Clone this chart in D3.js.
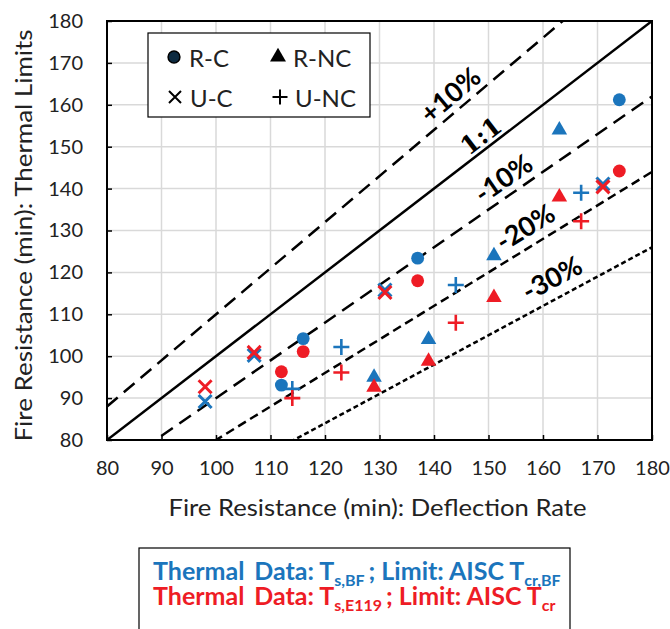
<!DOCTYPE html>
<html>
<head>
<meta charset="utf-8">
<script src="https://cdn.jsdelivr.net/npm/d3@7"></script>
<style>
  body { margin: 0; background: #fff; }
  text { font-family: Lato, "Open Sans", sans-serif; }
</style>
</head>
<body>
<svg width="670" height="629"></svg>
<script>
const svg = d3.select('svg');

// x = fire resistance from deflection rate, y = fire resistance from thermal limits
const rcX = [112, 116, 137, 174];
const rcBlueY = [93.1, 104.2, 123.4, 161.2];
const rcRedY = [96.3, 101.1, 118, 144.2];

const rncX = [129, 139, 151, 163];
const rncBlueY = [95, 104, 124, 154];
const rncRedY = [92.6, 98.8, 114, 138];

const ucX = [98, 107, 131, 171];
const ucBlueY = [89.2, 100.2, 115.8, 141.1];
const ucRedY = [92.7, 100.9, 115.2, 140.4];

const uncX = [114, 123, 144, 167];
const uncBlueY = [92.2, 102.2, 117, 139];
const uncRedY = [90, 96.1, 108, 132.2];

const ticks = [80, 90, 100, 110, 120, 130, 140, 150, 160, 170, 180];

const refFactors = [1.1, 1.0, 0.9, 0.8, 0.7];
const refLabels = ['+10%', '1:1', '-10%', '-20%', '-30%'];

const blue = '#1b75bc';
const red = '#ee1c25';

const margin = { top: 21, left: 107 };
const innerWidth = 545;
const innerHeight = 419;

const xScale = d3.scaleLinear().domain([80, 180]).range([0, innerWidth]);
const yScale = d3.scaleLinear().domain([80, 180]).range([innerHeight, 0]);

const g = svg.append('g')
    .attr('transform', `translate(${margin.left}, ${margin.top})`);

svg.append('defs').append('clipPath').attr('id', 'plot-clip')
  .append('rect').attr('width', innerWidth).attr('height', innerHeight);

// grid
g.append('g').selectAll('line').data(ticks.slice(1, -1)).enter().append('line')
    .attr('x1', d => xScale(d)).attr('x2', d => xScale(d))
    .attr('y1', 0).attr('y2', innerHeight)
    .attr('stroke', '#d9d9d9').attr('stroke-width', 1.5);
g.append('g').selectAll('line').data(ticks.slice(1, -1)).enter().append('line')
    .attr('y1', d => yScale(d)).attr('y2', d => yScale(d))
    .attr('x1', 0).attr('x2', innerWidth)
    .attr('stroke', '#d9d9d9').attr('stroke-width', 1.5);

// axes, ticks pointing inward
const yAxisG = g.append('g')
    .call(d3.axisLeft(yScale).tickValues(ticks).tickSize(-5).tickPadding(24));
const xAxisG = g.append('g')
    .attr('transform', `translate(0, ${innerHeight})`)
    .call(d3.axisBottom(xScale).tickValues(ticks).tickSize(-5).tickPadding(21));
[yAxisG, xAxisG].forEach(a => {
  a.select('.domain').remove();
  a.selectAll('.tick line').attr('stroke', '#000').attr('stroke-width', 1.5);
  a.selectAll('.tick text').attr('font-size', 20).attr('fill', '#222')
    .style('font-family', 'Lato, sans-serif');
});

// reference lines
const dashes = ['14,8', null, '14,8', '9,5', '5,3'];
const clipG = g.append('g').attr('clip-path', 'url(#plot-clip)');
clipG.selectAll('line.ref').data(refFactors).enter().append('line')
    .attr('class', 'ref')
    .attr('x1', xScale(80)).attr('y1', f => yScale(80 * f))
    .attr('x2', xScale(180)).attr('y2', f => yScale(180 * f))
    .attr('stroke', '#000').attr('stroke-width', 2.5)
    .attr('stroke-dasharray', (f, i) => dashes[i]);

// labels on the reference lines
const labelAt = [144.9, 150.1, 154.5, 158.6, 163.4];
const labelOff = [17, 13, 18, 20, 21];
refFactors.forEach((f, i) => {
  const angle = Math.atan2(yScale(80) - yScale(80 + 10 * f), xScale(90) - xScale(80)) * 180 / Math.PI;
  g.append('text')
    .attr('transform', `translate(${xScale(labelAt[i])}, ${yScale(labelAt[i] * f)}) rotate(${-angle})`)
    .attr('y', -labelOff[i])
    .attr('dominant-baseline', 'central')
    .attr('text-anchor', 'middle')
    .attr('font-size', i === 1 ? 25 : 27)
    .attr('font-weight', 'bold')
    .style('font-family', i === 1 ? '"DejaVu Serif", serif' : 'Lato, sans-serif')
    .text(refLabels[i]);
});

// frame
g.append('rect').attr('width', innerWidth).attr('height', innerHeight)
    .attr('fill', 'none').attr('stroke', '#000').attr('stroke-width', 2);

// markers
const xPath = s => `M${-s},${-s}L${s},${s}M${-s},${s}L${s},${-s}`;
const plusPath = s => `M${-s},0L${s},0M0,${-s}L0,${s}`;

const drawSeries = (xs, ys, kind, color) => {
  const pts = xs.map((x, i) => ({ x, y: ys[i] }));
  const sel = g.append('g').selectAll('path').data(pts).enter().append('path')
      .attr('transform', d => `translate(${xScale(d.x)}, ${yScale(d.y)})`);
  if (kind === 'circle') {
    sel.attr('d', d3.symbol(d3.symbolCircle, 130)()).attr('fill', color);
  } else if (kind === 'triangle') {
    sel.attr('d', d3.symbol(d3.symbolTriangle, 105)()).attr('fill', color);
  } else if (kind === 'x') {
    sel.attr('d', xPath(6.5)).attr('stroke', color).attr('stroke-width', 3).attr('fill', 'none');
  } else {
    sel.attr('d', plusPath(8)).attr('stroke', color).attr('stroke-width', 2.6).attr('fill', 'none');
  }
};

drawSeries(rcX, rcBlueY, 'circle', blue);
drawSeries(rcX, rcRedY, 'circle', red);
drawSeries(rncX, rncBlueY, 'triangle', blue);
drawSeries(rncX, rncRedY, 'triangle', red);
drawSeries(ucX, ucBlueY, 'x', blue);
drawSeries(ucX, ucRedY, 'x', red);
drawSeries(uncX, uncBlueY, 'plus', blue);
drawSeries(uncX, uncRedY, 'plus', red);

// legend
const lg = svg.append('g');
lg.append('rect').attr('x', 148).attr('y', 33).attr('width', 222).attr('height', 84)
    .attr('fill', '#fff').attr('stroke', '#000').attr('stroke-width', 1.2);
const legendItems = [
  { label: 'R-C', kind: 'circle', x: 174, y: 57 },
  { label: 'R-NC', kind: 'triangle', x: 278, y: 57 },
  { label: 'U-C', kind: 'x', x: 175, y: 97 },
  { label: 'U-NC', kind: 'plus', x: 280, y: 97 }
];
legendItems.forEach(d => {
  const m = lg.append('path').attr('transform', `translate(${d.x}, ${d.y})`);
  if (d.kind === 'circle') {
    m.attr('d', d3.symbol(d3.symbolCircle, 110)()).attr('fill', '#0d2a40')
      .attr('stroke', '#000').attr('stroke-width', 1.5);
  } else if (d.kind === 'triangle') {
    m.attr('d', d3.symbol(d3.symbolTriangle, 110)()).attr('fill', '#000');
  } else if (d.kind === 'x') {
    m.attr('d', xPath(6)).attr('stroke', '#000').attr('stroke-width', 2);
  } else {
    m.attr('d', plusPath(7.5)).attr('stroke', '#000').attr('stroke-width', 2);
  }
  lg.append('text').attr('x', d.x + 15).attr('y', d.y)
    .attr('dominant-baseline', 'central')
    .attr('font-size', 24).attr('fill', '#222').text(d.label);
});

// axis titles
svg.append('text')
    .attr('x', margin.left + innerWidth / 2 - 2).attr('y', 516)
    .attr('text-anchor', 'middle').attr('font-size', 24).attr('fill', '#222')
    .attr('textLength', 418).attr('lengthAdjust', 'spacingAndGlyphs')
    .text('Fire Resistance (min): Deflection Rate');
svg.append('text')
    .attr('transform', `translate(32, ${margin.top + innerHeight / 2 + 5}) rotate(-90)`)
    .attr('text-anchor', 'middle').attr('font-size', 24).attr('fill', '#222')
    .attr('textLength', 412).attr('lengthAdjust', 'spacingAndGlyphs')
    .text('Fire Resistance (min): Thermal Limits');

// note box
const nb = svg.append('g');
nb.append('rect').attr('x', 139).attr('y', 548).attr('width', 431).attr('height', 100)
    .attr('fill', '#fff').attr('stroke', '#000').attr('stroke-width', 1.2);
const noteLine = (y, color, s1, s2) => {
  const t = nb.append('text').attr('x', 153).attr('y', y)
      .attr('font-size', 25).attr('font-weight', 'bold').attr('fill', color);
  t.append('tspan').text('Thermal');
  t.append('tspan').attr('dx', 10).text('Data: T');
  t.append('tspan').attr('font-size', 16).attr('dy', 6).text(s1);
  t.append('tspan').attr('dy', -6).attr('dx', 4).text('; Limit: AISC T');
  t.append('tspan').attr('font-size', 16).attr('dy', 6).text(s2);
};
noteLine(580, blue, 's,BF', 'cr,BF');
noteLine(605, red, 's,E119', 'cr');
</script>
</body>
</html>
